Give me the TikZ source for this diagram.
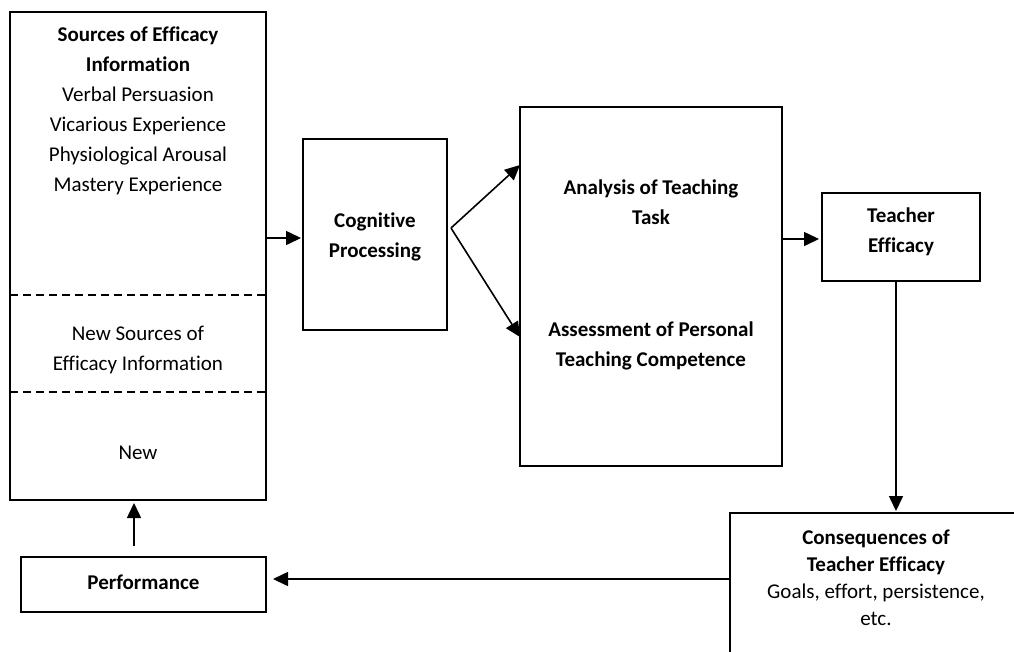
\documentclass[tikz,border=0pt]{standalone}
\usepackage{fontspec}
\setmainfont{Carlito}[Ligatures=NoCommon]
\usetikzlibrary{arrows.meta,calc}
\begin{document}
\begin{tikzpicture}[x=1pt,y=-1pt,
  box/.style={draw, line width=1.8pt, inner sep=0pt, outer sep=0pt},
  txt/.style={align=center, font=\fontsize{21}{30}\selectfont, inner sep=0pt},
  txtb/.style={txt, font=\fontsize{21}{30}\selectfont\bfseries},
  arr/.style={line width=1.6pt, -{Triangle[length=15pt,width=14pt]}},
  sep/.style={line width=1.8pt, dash pattern=on 8pt off 5pt}]
\clip (0,0) rectangle (1014,651);
\fill[white] (0,0) rectangle (1014,651);

% boxes
\node[box, minimum width=256, minimum height=488] (src) at (138,256) {};
\node[box, minimum width=144, minimum height=191] (cog) at (375,234.5) {};
\node[box, minimum width=262, minimum height=359] (mid) at (651,286.5) {};
\node[box, minimum width=158, minimum height=88] (te) at (901,237) {};
\node[box, minimum width=292, minimum height=207] (cons) at (876,616.5) {};
\node[box, minimum width=245, minimum height=55] (perf) at (143.5,584.5) {};

% dashed separators in the sources box
\draw[sep] (src.west |- 0,295) -- (src.east |- 0,295);
\draw[sep] (src.west |- 0,392) -- (src.east |- 0,392);

% texts
\node[txt] (srct) at (138,111) {\textbf{Sources of Efficacy}\\\textbf{Information}\\Verbal Persuasion\\Vicarious Experience\\Physiological Arousal\\Mastery Experience};
\node[txt] (newsrc) at (138,350) {New Sources of\\Efficacy Information};
\node[txt] (newt) at (138,453) {New};
\node[txtb] (cogt) at (375,236.5) {Cognitive\\Processing};
\node[txtb] (ana) at (651,202.5) {Analysis of Teaching\\Task};
\node[txtb] (ass) at (651,345.5) {Assessment of Personal\\Teaching Competence};
\node[txtb] (tet) at (901,232) {Teacher\\Efficacy};
\node[txt, font=\fontsize{21}{27}\selectfont] (const) at (876,577.5) {\textbf{Consequences of}\\\textbf{Teacher Efficacy}\\Goals, effort, persistence,\\etc.};
\node[txtb] (perft) at (143.5,582) {Performance};

% connectors
\path ([yshift=-3.5pt]cog.west) coordinate (cogin);
\draw[arr, shorten >=2pt] (src.east |- cogin) -- (cogin);

\path ([xshift=4pt,yshift=6.5pt]cog.east) coordinate (fork);
\path ($(mid.north west)+(0,58)$) coordinate (t1);
\path ($(mid.north west)+(0,230)$) coordinate (t2);
\draw[arr] (fork) -- (t1);
\draw[arr] (fork) -- (t2);

\path ([yshift=-2pt]te.west) coordinate (tein);
\draw[arr, shorten >=3pt] (mid.east |- tein) -- (tein);

\path ([xshift=-5pt]te.south) coordinate (tedown);
\draw[arr, shorten >=2pt] (tedown) -- (tedown |- cons.north);

\path ([yshift=5.5pt]perf.east) coordinate (perfin);
\draw[arr, shorten >=7pt] (cons.west |- perfin) -- (perfin);

\path ([xshift=-9.5pt,yshift=11pt]perf.north) coordinate (perfout);
\draw[arr, shorten >=3pt] (perfout) -- (perfout |- src.south);
\end{tikzpicture}
\end{document}
